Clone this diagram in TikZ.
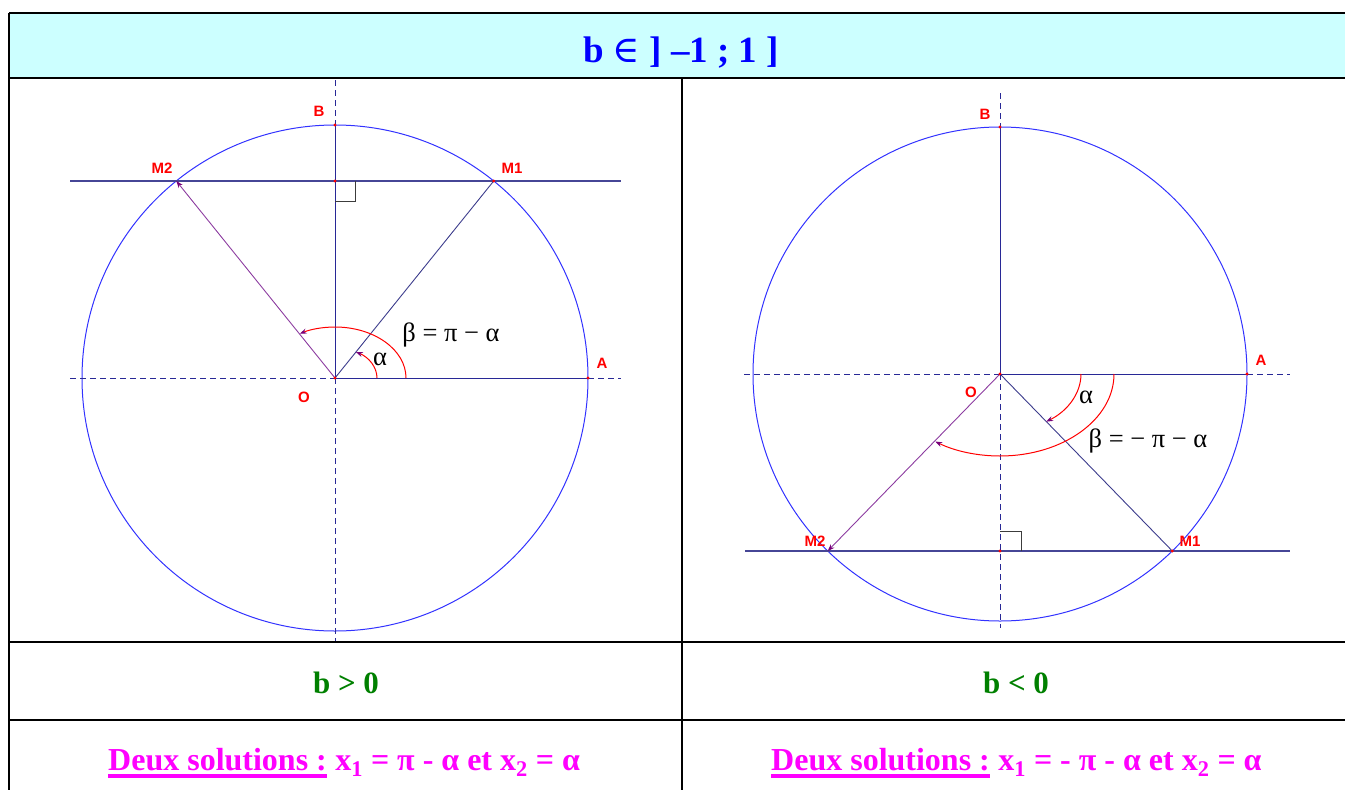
\documentclass[tikz,border=0pt]{standalone}
\usepackage{fontspec}
\setmainfont{Liberation Serif}
\newfontfamily\labfont{Liberation Sans}
\newfontfamily\symbfont{DejaVu Serif}
\usetikzlibrary{arrows.meta}
\definecolor{hdrfill}{RGB}{204,255,255}
\definecolor{hblue}{RGB}{0,0,255}
\definecolor{tgreen}{RGB}{0,128,0}
\definecolor{tmag}{RGB}{255,0,255}
\definecolor{circcol}{RGB}{50,50,255}
\definecolor{axiscol}{RGB}{40,40,150}
\definecolor{chordcol}{RGB}{70,70,150}
\definecolor{segone}{RGB}{60,60,140}
\definecolor{segtwo}{RGB}{140,60,160}
\definecolor{arrowpurple}{RGB}{120,0,120}
\definecolor{lblred}{RGB}{255,0,0}
\definecolor{rightcol}{RGB}{60,60,60}
\begin{document}
\begin{tikzpicture}[x=1pt,y=-1pt,
  tbl/.style={black,line width=2.2pt},
  circle line/.style={circcol,line width=1pt},
  axis solid/.style={axiscol,line width=1pt},
  axis dashed/.style={axiscol,line width=1pt,dash pattern=on 6pt off 4pt},
  chord/.style={chordcol,line width=1.2pt},
  seg1/.style={segone,line width=0.9pt},
  seg2/.style={segtwo,line width=0.9pt,-{Stealth[length=7pt,width=5pt,color=arrowpurple]}},
  redarc/.style={red,line width=1pt,-{Stealth[length=7pt,width=5pt,color=arrowpurple]}},
  ptlabel/.style={font=\labfont\bfseries\fontsize{15}{17}\selectfont,text=lblred,inner sep=0pt},
  greek/.style={font=\fontsize{26.5}{28}\selectfont,inner sep=0pt},
  rmark/.style={rightcol,line width=0.9pt},
  title/.style={font=\fontsize{37}{40}\selectfont\bfseries,text=hblue,inner sep=0pt,anchor=base},
  case/.style={font=\fontsize{31}{34}\selectfont\bfseries,text=tgreen,inner sep=0pt,anchor=base},
  sol/.style={font=\fontsize{32}{34}\selectfont\bfseries,text=tmag,inner sep=0pt,anchor=base west}
]
\useasboundingbox (0,0) rectangle (1345,790);
% ---------- table ----------
\fill[hdrfill] (9,13) rectangle (1360,78);
\draw[tbl] (9,13) -- (1360,13);
\draw[tbl] (9,13) -- (9,800);
\draw[tbl] (9,78) -- (1360,78);
\draw[tbl] (9,642) -- (1360,642);
\draw[tbl] (9,720) -- (1360,720);
\draw[tbl] (682,78) -- (682,800);
\node[title] (ttl) at (681,62) {b {\symbfont\mdseries ∈} ] –1 ; 1 ]};
\node[case] (bpos) at (346,693) {b > 0};
\node[case] (bneg) at (1016,693) {b < 0};
\node[sol] (dsA) at (108,770) {Deux solutions :};
\node[sol] (solA) at (dsA.base east) {\ x\textsubscript{1} = π - α et x\textsubscript{2} = α};
\draw[tmag,line width=4pt] ([yshift=-6pt]dsA.base west) -- ([yshift=-6pt]dsA.base east);
\node[sol] (dsB) at (771,770) {Deux solutions :};
\node[sol] (solB) at (dsB.base east) {\ x\textsubscript{1} = - π - α et x\textsubscript{2} = α};
\draw[tmag,line width=4pt] ([yshift=-6pt]dsB.base west) -- ([yshift=-6pt]dsB.base east);
% ---------- left figure (b>0) ----------
\coordinate (O1) at (335,378);
\coordinate (A1) at (588,378);
\coordinate (B1) at (335,125);
\coordinate (H1) at (335,181);
\coordinate (P1) at (493.7,181);
\coordinate (Q1) at (176.3,181);
\coordinate (L1) at (70,378);
\coordinate (R1) at (621,378);
\coordinate (T1) at (335,80);
\coordinate (D1) at (335,641);
\coordinate (CL1) at (70,181);
\coordinate (CR1) at (621,181);
\draw[circle line] (O1) circle[radius=253pt];
\draw[axis dashed] (L1) -- (O1);
\draw[axis solid] (O1) -- (A1);
\draw[axis dashed] (A1) -- (R1);
\draw[axis dashed] (T1) -- (B1);
\draw[axis solid] (B1) -- (O1);
\draw[axis dashed] (O1) -- (D1);
\draw[chord] (CL1) -- (CR1);
\draw[rmark] (335,201) -- (355,201) -- (355,181);
\draw[seg1] (O1) -- (P1);
\draw[seg2] (O1) -- (Q1);
\draw[redarc] (377,378) arc[start angle=0,end angle=60.3,x radius=42pt,y radius=30pt];
\draw[redarc] (406,378) arc[start angle=0,end angle=119.8,x radius=71pt,y radius=51pt];
\foreach \p in {O1,A1,B1,H1,P1} \fill[lblred] (\p) circle[radius=1.6pt];
\node[ptlabel] (lB1) at (319,111) {B};
\node[ptlabel] (lM21) at (162,168) {M2};
\node[ptlabel] (lM11) at (512,168) {M1};
\node[ptlabel] (lO1) at (304,397) {O};
\node[ptlabel] (lA1) at (602,363) {A};
\node[greek] (al1) at (380,359) {α};
\node[greek] (be1) at (451,335) {β = π − α};
% ---------- right figure (b<0) ----------
\coordinate (O2) at (1000,374);
\coordinate (A2) at (1247,374);
\coordinate (B2) at (1000,127);
\coordinate (H2) at (1000,551);
\coordinate (P2) at (1172.3,551);
\coordinate (Q2) at (827.7,551);
\coordinate (L2) at (744,374);
\coordinate (R2) at (1290,374);
\coordinate (T2) at (1000,93);
\coordinate (D2) at (1000,628);
\coordinate (CL2) at (745,551);
\coordinate (CR2) at (1290,551);
\draw[circle line] (O2) circle[radius=247pt];
\draw[axis dashed] (L2) -- (O2);
\draw[axis solid] (O2) -- (A2);
\draw[axis dashed] (A2) -- (R2);
\draw[axis dashed] (T2) -- (B2);
\draw[axis solid] (B2) -- (O2);
\draw[axis dashed] (O2) -- (D2);
\draw[chord] (CL2) -- (CR2);
\draw[rmark] (1000,531) -- (1021,531) -- (1021,551);
\draw[seg1] (O2) -- (P2);
\draw[seg2] (O2) -- (Q2);
\draw[redarc] (1081,374) arc[start angle=0,end angle=-55.3,x radius=81pt,y radius=58pt];
\draw[redarc] (1114,374) arc[start angle=0,end angle=-124.6,x radius=114pt,y radius=82pt];
\foreach \p in {O2,A2,B2,H2,P2} \fill[lblred] (\p) circle[radius=1.6pt];
\node[ptlabel] (lB2) at (985,114) {B};
\node[ptlabel] (lM22) at (815,541) {M2};
\node[ptlabel] (lM12) at (1190,541) {M1};
\node[ptlabel] (lO2) at (971,392) {O};
\node[ptlabel] (lA2) at (1261,360) {A};
\node[greek] (al2) at (1086,397) {α};
\node[greek] (be2) at (1148,441) {β = − π − α};
\end{tikzpicture}
\end{document}
